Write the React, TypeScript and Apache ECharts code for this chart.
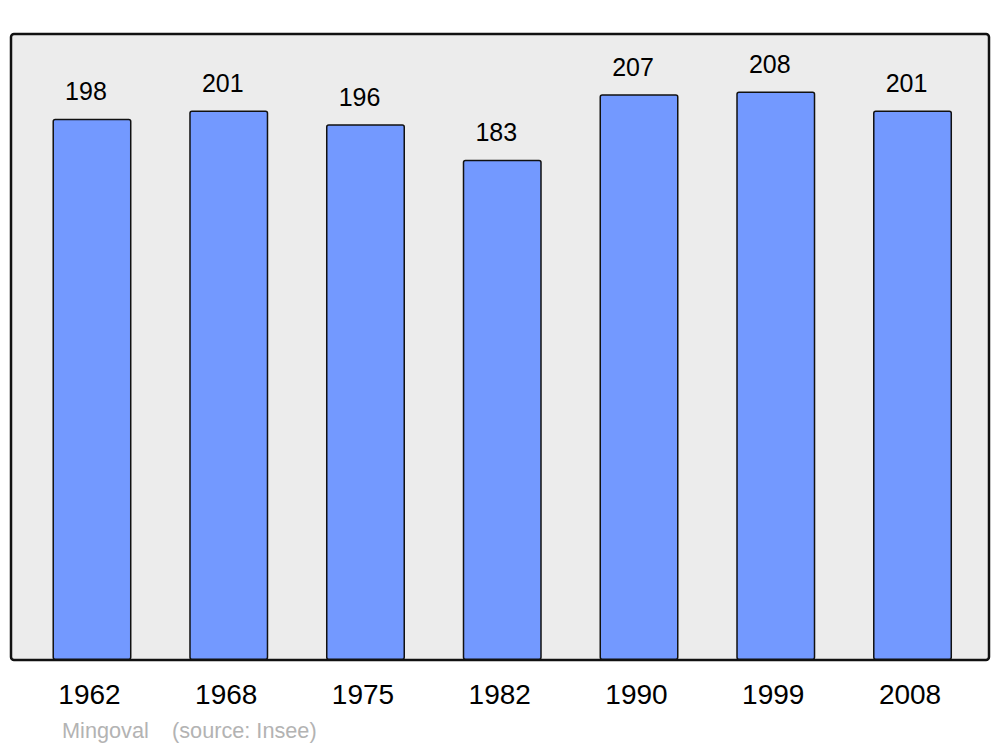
import React, { useEffect, useRef } from "react";
import * as echarts from "echarts";

const years = ["1962", "1968", "1975", "1982", "1990", "1999", "2008"];
const population = [198, 201, 196, 183, 207, 208, 201];
const footerName = "Mingoval";
const footerSource = "(source: Insee)";

export default function App() {
  const ref = useRef<HTMLDivElement>(null);
  useEffect(() => {
    document.body.style.margin = "0";
    const chart = echarts.init(ref.current!, undefined, { renderer: "svg" });
    const font = "'Liberation Sans', Arial, sans-serif";
    chart.setOption({
      animation: false,
      backgroundColor: "#ffffff",
      grid: { left: 23.6, right: 19.1, top: 34, bottom: 87, containLabel: false },
      xAxis: {
        type: "category",
        data: years,
        axisLine: { show: false },
        axisTick: { show: false },
        axisLabel: {
          color: "#000",
          fontSize: 28,
          fontFamily: font,
          margin: 20,
          padding: [0, 5, 0, 0],
        },
      },
      yAxis: {
        type: "value",
        min: 0,
        max: 229,
        show: false,
        splitLine: { show: false },
      },
      graphic: [
        {
          type: "rect",
          z: -10,
          silent: true,
          shape: { x: 11, y: 34, width: 978, height: 626, r: 3 },
          style: { fill: "#ececec", stroke: "#111111", lineWidth: 2.5 },
        },
        {
          type: "text",
          x: 62,
          y: 730,
          style: {
            text: footerName,
            fill: "#b3b3b3",
            font: `21.7px ${font}`,
            verticalAlign: "middle",
          },
        },
        {
          type: "text",
          x: 172,
          y: 730,
          style: {
            text: footerSource,
            fill: "#b3b3b3",
            font: `21.7px ${font}`,
            verticalAlign: "middle",
          },
        },
      ],
      series: [
        {
          type: "bar",
          data: population,
          barWidth: 79,
          itemStyle: {
            color: "#7399ff",
            borderColor: "#111111",
            borderWidth: 1.5,
            borderRadius: 2,
          },
          label: {
            show: true,
            position: "top",
            distance: 15,
            offset: [-6, 0],
            color: "#000",
            fontSize: 25,
            fontFamily: font,
          },
        },
      ],
    });
    return () => chart.dispose();
  }, []);
  return <div ref={ref} style={{ width: 1000, height: 747 }} />;
}
